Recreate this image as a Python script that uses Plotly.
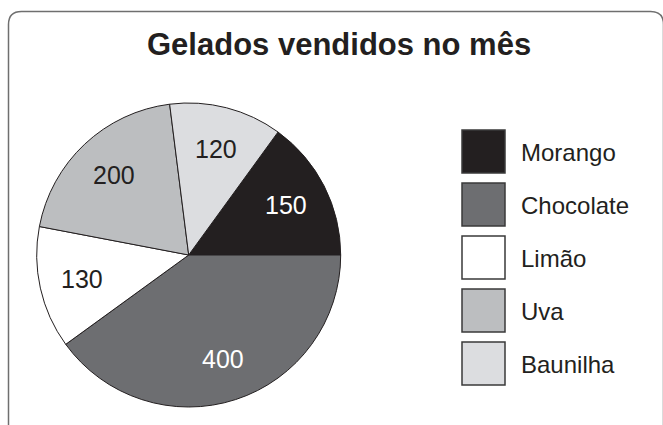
import math
import plotly.graph_objects as go

# ---- data ----
flavours = ["Morango", "Chocolate", "Limão", "Uva", "Baunilha"]
sales = [150, 400, 130, 200, 120]
colours = ["#231f20", "#6d6e71", "#ffffff", "#bcbec0", "#dcdde0"]
label_colours = ["#ffffff", "#ffffff", "#231f20", "#231f20", "#231f20"]
title_text = "Gelados vendidos no mês"

W, H = 663, 425
FONT = "Liberation Sans, Arial, sans-serif"


def px(x):
    return x / W


def py(y):
    return 1 - y / H


# pie geometry (pixels)
cx, cy, r = 188.7, 255, 152
start_angle = 36  # degrees clockwise from 12 o'clock

fig = go.Figure()
fig.add_trace(go.Pie(
    labels=flavours,
    values=sales,
    sort=False,
    direction="clockwise",
    rotation=start_angle,
    marker=dict(colors=colours, line=dict(color="#231f20", width=1)),
    textinfo="none",
    domain=dict(x=[px(cx - r), px(cx + r)], y=[py(cy + r), py(cy - r)]),
    showlegend=False,
    hoverinfo="label+value",
))

shapes = []
annotations = []

# value labels placed at each slice's mid-angle (derived from the data)
total = sum(sales)
cum = 0
for v, tc in zip(sales, label_colours):
    mid = math.radians(start_angle + (cum + v / 2) / total * 360)
    cum += v
    lx = cx + 0.72 * r * math.sin(mid)
    ly = cy - 0.72 * r * math.cos(mid)
    annotations.append(dict(xref="paper", yref="paper", x=px(lx), y=py(ly),
                            xanchor="center", yanchor="middle", showarrow=False,
                            text=str(v), font=dict(family=FONT, size=25, color=tc)))

# frame with rounded corners
x0, y0, x1, y1, rad = 8.5, 11.5, 663.5, 440, 13
path = (
    f"M {px(x0 + rad)} {py(y0)} L {px(x1 - rad)} {py(y0)} "
    f"Q {px(x1)} {py(y0)} {px(x1)} {py(y0 + rad)} "
    f"L {px(x1)} {py(y1 - rad)} Q {px(x1)} {py(y1)} {px(x1 - rad)} {py(y1)} "
    f"L {px(x0 + rad)} {py(y1)} Q {px(x0)} {py(y1)} {px(x0)} {py(y1 - rad)} "
    f"L {px(x0)} {py(y0 + rad)} Q {px(x0)} {py(y0)} {px(x0 + rad)} {py(y0)} Z"
)
shapes.append(dict(type="path", xref="paper", yref="paper", path=path,
                   line=dict(color="#6f6f6f", width=1.5), layer="below"))

# custom legend
lx0, lsize, ltop, lstep = 462, 43, 130, 53
for i, (name, col) in enumerate(zip(flavours, colours)):
    t = ltop + i * lstep
    shapes.append(dict(type="rect", xref="paper", yref="paper",
                       x0=px(lx0), x1=px(lx0 + lsize), y0=py(t + lsize), y1=py(t),
                       fillcolor=col, line=dict(color="#3a3a3a", width=1.5)))
    annotations.append(dict(xref="paper", yref="paper", x=px(519), y=py(t + lsize / 2 + 1),
                            xanchor="left", yanchor="middle", showarrow=False,
                            text=name,
                            font=dict(family=FONT, size=24, color="#231f20")))

annotations.append(dict(xref="paper", yref="paper", x=px(338.5), y=py(45),
                        xanchor="center", yanchor="middle", showarrow=False,
                        text=f"<b>{title_text}</b>",
                        font=dict(family=FONT, size=31, color="#231f20")))

fig.update_layout(
    width=W, height=H,
    margin=dict(l=0, r=0, t=0, b=0),
    paper_bgcolor="white",
    plot_bgcolor="white",
    shapes=shapes,
    annotations=annotations,
)

fig.write_html("out.html")
